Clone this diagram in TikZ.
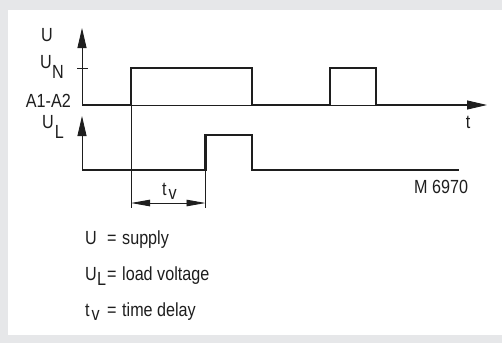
\documentclass[tikz,border=0pt]{standalone}
\usepackage{fontspec}
\setmainfont[FakeStretch=0.85]{Liberation Sans}
\usetikzlibrary{arrows.meta}
\definecolor{bggray}{RGB}{230,231,233}
\definecolor{ink}{RGB}{30,30,30}
\begin{document}
\begin{tikzpicture}[x=1pt,y=-1pt,
  thinline/.style={line width=0.9pt,draw=ink},
  sigline/.style={line width=2.6pt,draw=ink,line join=miter,line cap=butt},
  axtip/.style={-{Triangle[length=20pt,width=9pt]}},
  dimtip/.style={{Triangle[length=19pt,width=6.5pt]}-{Triangle[length=19pt,width=6.5pt]}},
  lbl/.style={font=\fontsize{19}{22}\selectfont,inner sep=0pt,text=ink}]
\useasboundingbox (0,0) rectangle (502,343);
\fill[bggray] (0,0) rectangle (502,343);
\fill[white] (8,10) rectangle (502,335);
% coordinates
\coordinate (o1) at (82,105);
\coordinate (y1) at (82,28);
\coordinate (x1) at (487,105);
\coordinate (o2) at (82,170);
\coordinate (y2) at (82,116);
\coordinate (tk1) at (77,68);
\coordinate (tk2) at (88,68);
\coordinate (va) at (131,105);
\coordinate (vab) at (131,208);
\coordinate (vb) at (205.5,135);
\coordinate (vbb) at (205.5,208);
\coordinate (d1) at (131,203);
\coordinate (d2) at (205.5,203);
% axes
\draw[thinline,axtip] (o1) -- (y1);
\draw[thinline,axtip] (o1) -- (x1);
\draw[thinline,axtip] (o2) -- (y2);
\draw[thinline] (tk1) -- (tk2);
% helper lines
\draw[thinline] (va) -- (vab);
\draw[thinline] (vb) -- (vbb);
\draw[thinline,dimtip] (d1) -- (d2);
% signals
\draw[sigline] (82,105) -- (131,105) -- (131,68) -- (252,68) -- (252,105)
  -- (330,105) -- (330,68) -- (376,68) -- (376,105) -- (470,105);
\draw[sigline] (82,170) -- (205.5,170) -- (205.5,135) -- (252,135) -- (252,170) -- (459,170);
% labels
\node[lbl,anchor=base west] (lU) at (41,41) {U};
\node[lbl,anchor=base west] (lUN) at (40,68.5) {U\kern0.3pt\raisebox{-10pt}{N}};
\node[lbl,anchor=base east] (lA) at (71,107) {A1-A2};
\node[lbl,anchor=base west] (lUL) at (42,128) {U\kern1pt\raisebox{-10pt}{L}};
\node[lbl,anchor=base] (lt) at (468,128) {t};
\node[lbl,anchor=base west] (lM) at (414,193) {M 6970};
\node[lbl,anchor=base west] (ltv) at (162,195) {t\kern2pt\raisebox{-4pt}{v}};
% legend
\node[lbl,anchor=base west] (g1) at (85,244) {U};
\node[lbl,anchor=base west] (g1q) at (107,244) {=};
\node[lbl,anchor=base west] (g1e) at (122,244) {supply};
\node[lbl,anchor=base west] (g2) at (85,280) {U\kern0.3pt\raisebox{-5.5pt}{L}};
\node[lbl,anchor=base west] (g2q) at (107,280) {=};
\node[lbl,anchor=base west] (g2e) at (122,280) {load voltage};
\node[lbl,anchor=base west] (g3) at (85,316) {t\kern2pt\raisebox{-4pt}{v}};
\node[lbl,anchor=base west] (g3q) at (107,316) {=};
\node[lbl,anchor=base west] (g3e) at (122,316) {time delay};
\end{tikzpicture}
\end{document}
